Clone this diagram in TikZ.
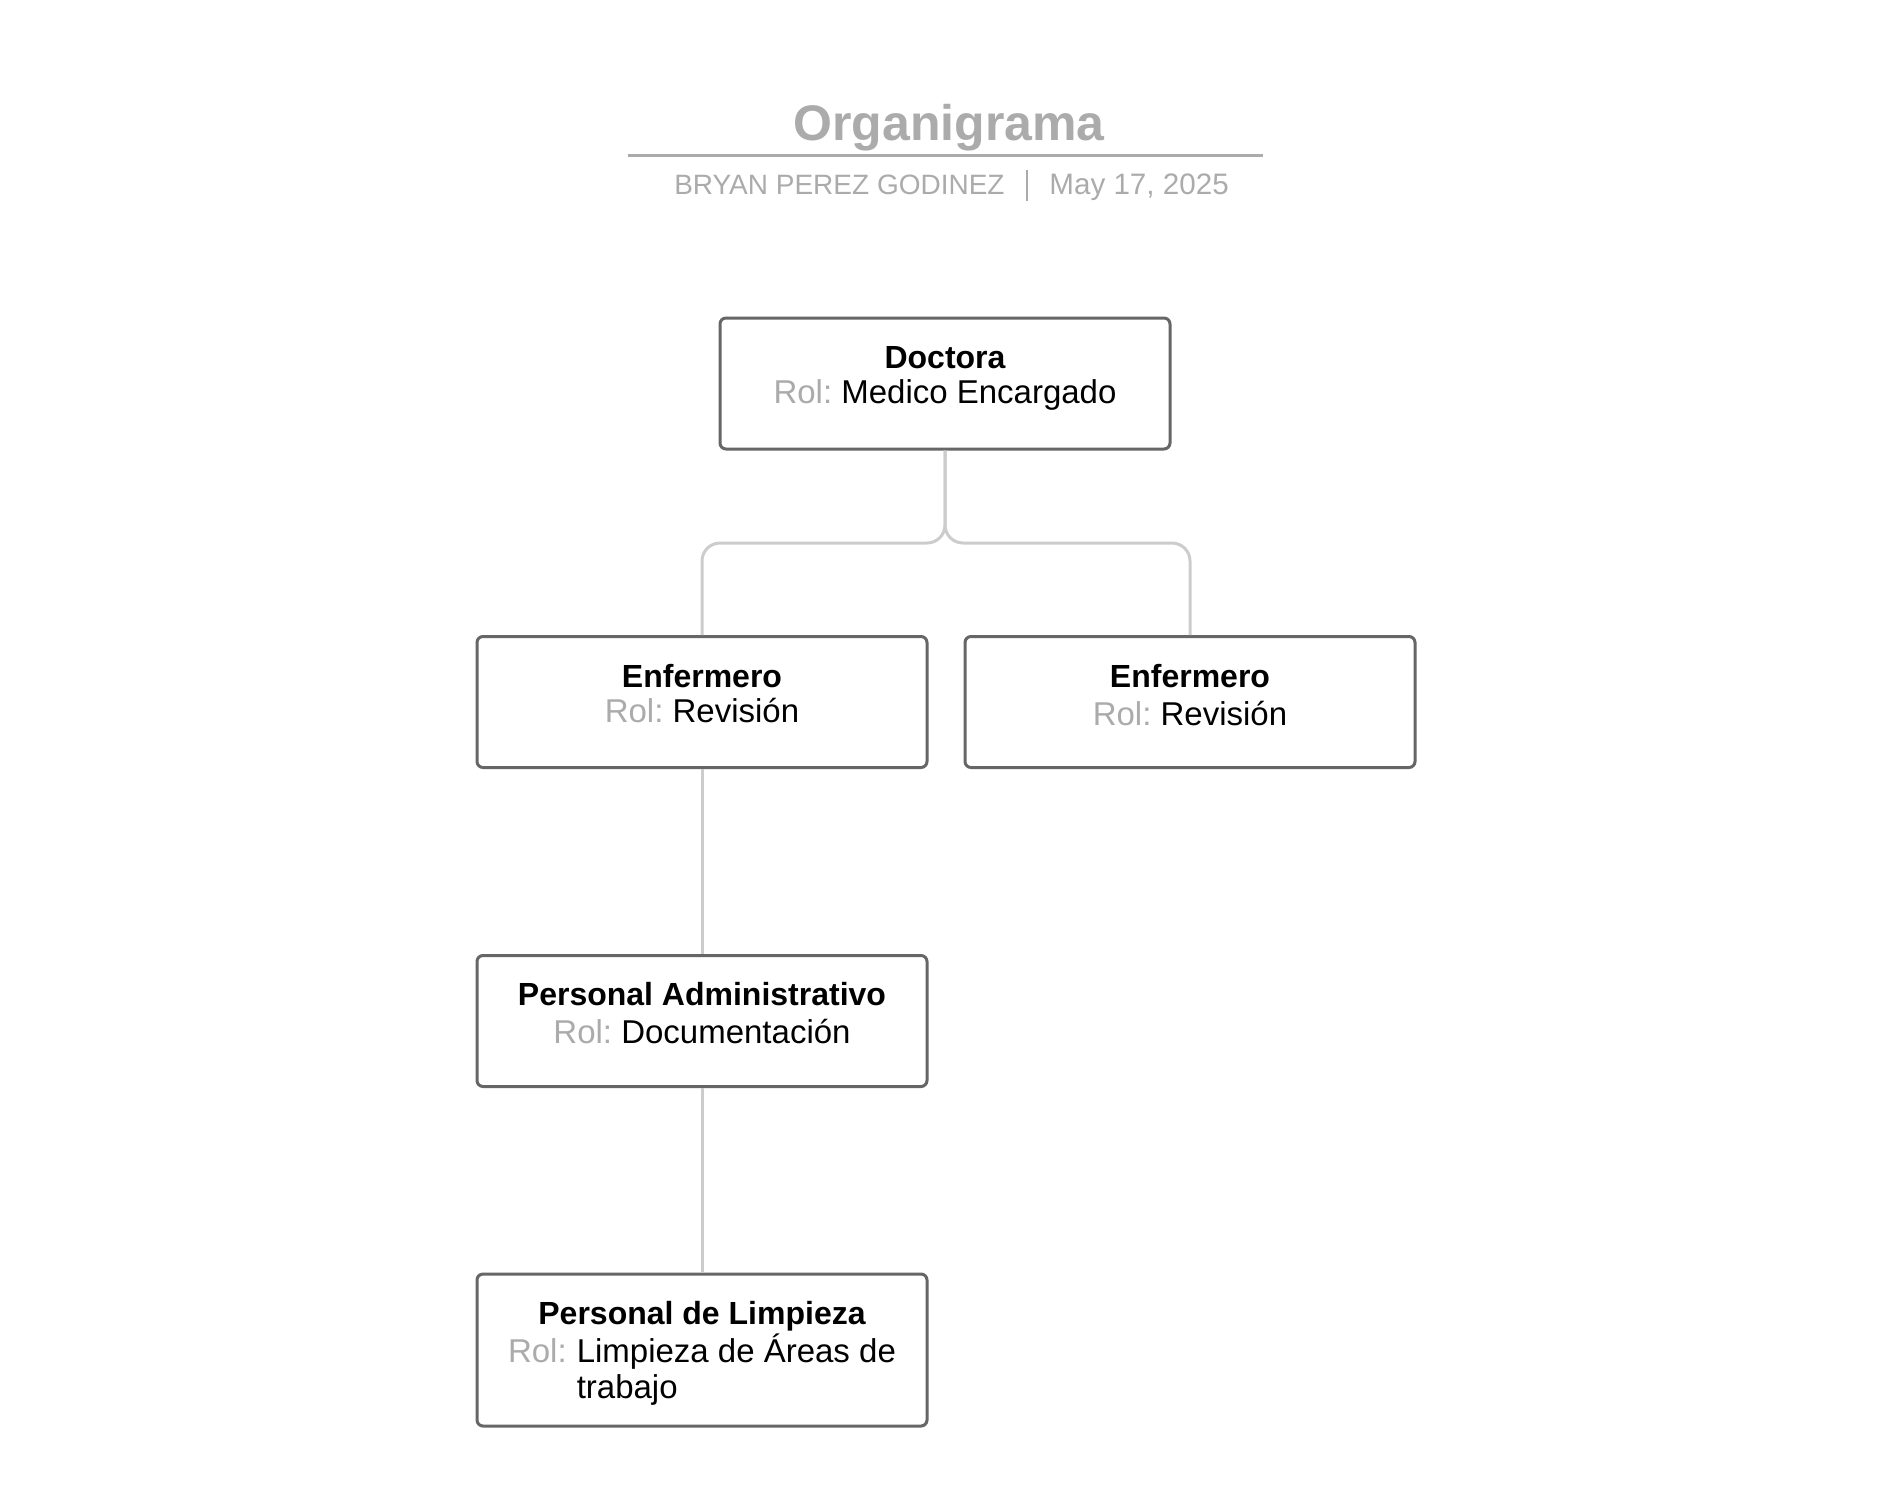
\documentclass[tikz,border=0pt]{standalone}
\usepackage{fontspec}
\setmainfont{Liberation Sans}
\usetikzlibrary{positioning}
\definecolor{boxgray}{HTML}{666666}
\definecolor{linkgray}{HTML}{CCCCCC}
\definecolor{softgray}{HTML}{ABABAB}
\newcommand{\rolname}{{\color{softgray}Rol:}}
\begin{document}
\begin{tikzpicture}[x=0.5pt, y=-0.5pt,
    card/.style={draw=boxgray, line width=1.5pt, rounded corners=3pt, fill=white,
                 minimum width=225pt, minimum height=65.5pt},
    cardtext/.style={anchor=north, inner sep=0pt, align=center,
                     font=\fontsize{16.5}{17.5}\selectfont},
    link/.style={draw=linkgray, line width=1.5pt, rounded corners=9pt}]
    \useasboundingbox (0,0) rectangle (1888,1500);

    \node[anchor=base, inner sep=0pt, text=softgray, font=\fontsize{25}{30}\selectfont\bfseries] (titulo) at (949,140) {Organigrama};
    \draw[softgray, line width=1.5pt] (628,155) -- (1263,155);
    \node[anchor=base east, inner sep=0pt, text=softgray, font=\fontsize{14}{17}\selectfont] (autor) at (1005,194) {BRYAN PEREZ GODINEZ};
    \node[anchor=base west, inner sep=0pt, text=softgray, font=\fontsize{14.8}{17}\selectfont] (fecha) at (1049,194) {May 17, 2025};
    \draw[softgray, line width=1pt] (1027,170) -- (1027,201);

    \node[card] (doctora) at (945,383.5) {};
    \node[card] (enfL) at (702,702) {};
    \node[card] (enfR) at (1190,702) {};
    \node[card] (admin) at (702,1021) {};
    \node[card, minimum height=76pt] (limpieza) at (702,1350) {};

    \coordinate (bus) at (945,543);
    \draw[link] (doctora.south) -- (doctora.south |- bus) -- (enfL.north |- bus) -- (enfL.north);
    \draw[link] (doctora.south) -- (doctora.south |- bus) -- (enfR.north |- bus) -- (enfR.north);
    \draw[link] (enfL) -- (admin);
    \draw[link] (admin) -- (limpieza);

    \node[cardtext] (doctora-t) at ([yshift=-14.8pt]doctora.north) {{\fontsize{16}{17.5}\selectfont\bfseries Doctora}\\\rolname\ Medico Encargado};
    \node[cardtext] (enfL-t) at ([yshift=-14.2pt]enfL.north) {{\fontsize{16}{17.5}\selectfont\bfseries Enfermero}\\\rolname\ Revisión};
    \node[cardtext] (enfR-t) at ([yshift=-14.2pt]enfR.north) {{\fontsize{16}{17.5}\selectfont\bfseries Enfermero}\\[1.5pt]\rolname\ Revisión};
    \node[cardtext] (admin-t) at ([yshift=-14.1pt]admin.north) {{\fontsize{16}{17.5}\selectfont\bfseries Personal Administrativo}\\[1.5pt]\rolname\ Documentación};
    \node[cardtext] (limpieza-t) at ([yshift=-14pt]limpieza.north) {{\fontsize{16}{17.5}\selectfont\bfseries Personal de Limpieza}\\[0.5pt]
        \begin{tabular}[t]{@{}l@{\hspace{5pt}}l@{}}\rolname & Limpieza de Áreas de\\[0.8pt] & trabajo\end{tabular}};
\end{tikzpicture}
\end{document}
